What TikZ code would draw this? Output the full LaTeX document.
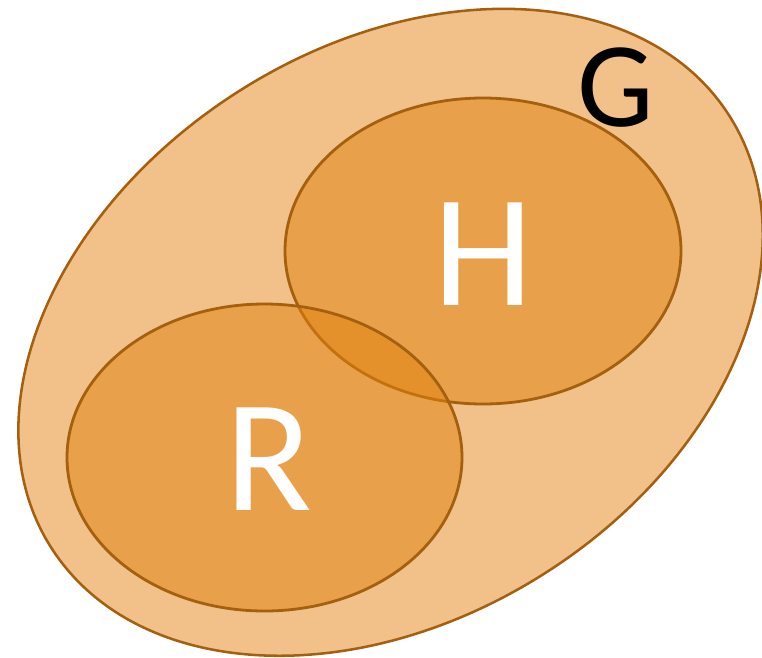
\documentclass[tikz,border=0pt]{standalone}
\usepackage{fontspec}
\setmainfont{Carlito}
\definecolor{setline}{RGB}{165,96,15}
\definecolor{outerfill}{RGB}{241,193,137}
\definecolor{innerfill}{RGB}{225,131,13}
\begin{document}
\begin{tikzpicture}[x=0.75pt,y=-0.75pt,
  setedge/.style={draw=setline,line width=1.9pt},
  subset/.style={setedge,fill=innerfill,fill opacity=0.5,line width=2.1pt},
  biglabel/.style={anchor=base,inner sep=0pt,text=white,font=\fontsize{120}{120}\selectfont},
  glabel/.style={anchor=base,inner sep=0pt,text=black,font=\fontsize{91}{91}\selectfont}]
\useasboundingbox (0,0) rectangle (762,657);
% outer set G: a tilted egg built from four quarter ellipses
\begin{scope}[shift={(391,331)},rotate=32.5]
  \draw[setedge,fill=outerfill]
    (401,0) arc[start angle=0,end angle=-90,x radius=401,y radius=284]
            arc[start angle=-90,end angle=-180,x radius=403,y radius=284]
            arc[start angle=180,end angle=90,x radius=403,y radius=287]
            arc[start angle=90,end angle=0,x radius=401,y radius=287]
    -- cycle;
\end{scope}
% subsets H and R
\draw[subset] (483,251) ellipse [x radius=198,y radius=153];
\draw[subset] (264.5,457.5) ellipse [x radius=197.5,y radius=153.5];
% labels
\node[glabel] (g) at (616,126) {G};
\node[biglabel] (h) at (483,305) {H};
\node[biglabel] (r) at (268.5,510) {R};
\end{tikzpicture}
\end{document}
